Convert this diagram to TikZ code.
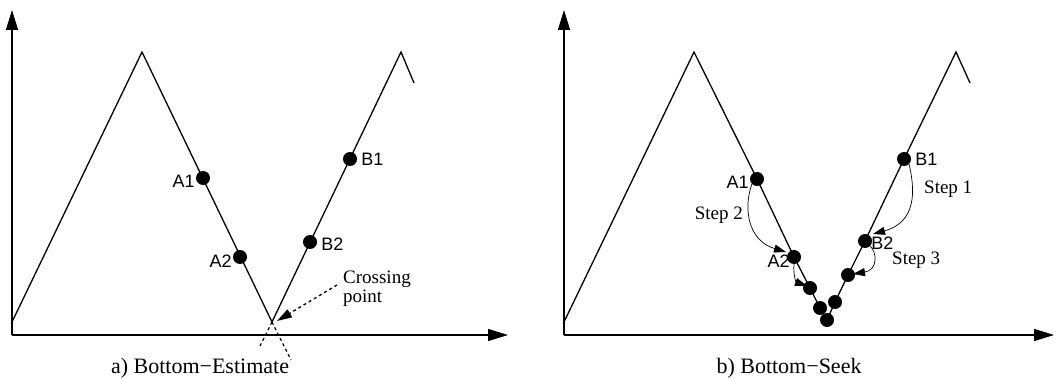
\documentclass[tikz,border=0pt]{standalone}
\usepackage{fontspec}
\setmainfont{Liberation Serif}
\setsansfont{Liberation Sans}
\usetikzlibrary{arrows.meta}
\tikzset{dt/.style={circle,fill=black,inner sep=0pt,minimum size=14pt},
 lb/.style={font=\sffamily\fontsize{18}{20}\selectfont,inner sep=1pt},
 tx/.style={font=\fontsize{19}{19}\selectfont,align=left,inner sep=0pt},
 cp/.style={font=\fontsize{22}{24}\selectfont,inner sep=0pt},
 ln/.style={line width=1.3pt},
 ax/.style={line width=1.3pt,-{Triangle[length=20pt,width=12pt]}},
 ar/.style={line width=0.7pt,-{Triangle[length=12pt,width=8pt]}}}

\begin{document}
\begin{tikzpicture}[x=1pt,y=-1pt]
\useasboundingbox (0,0) rectangle (1056,379);
% a) bottom-estimate
\coordinate (ao) at (12,335);
\coordinate (ay) at (12,10);
\coordinate (ax) at (508,335);
\draw[ax](ao)--(ay);\draw[ax](ao)--(ax);
\coordinate (as) at (12,322);
\coordinate (ap1) at (142,52);
\coordinate (av) at (272,322);
\coordinate (ap2) at (401,52);
\coordinate (ae) at (414,83);
\coordinate (ad1) at (291,360);
\coordinate (ad2) at (260,346);
\draw[ln](as)--(ap1)--(av)--(ap2)--(ae);
\draw[ln,dashed](av)--(ad1);\draw[ln,dashed](av)--(ad2);
\node[dt](aA1) at (203,178){};
\node[dt](aA2) at (240,257){};
\node[dt](aB1) at (350,159){};
\node[dt](aB2) at (310,242){};
\node[lb,anchor=east] at ([yshift=-3pt]aA1.west){A1};
\node[lb,anchor=east] at ([yshift=-4pt]aA2.west){A2};
\node[lb,anchor=west,xshift=3pt] at (aB1.east){B1};
\node[lb,anchor=west,xshift=3pt] at ([yshift=-2pt]aB2.east){B2};
\node[tx,anchor=west](cr) at (343,289){Crossing\\point};
\coordinate (ac) at (337,285);
\coordinate (at) at (277,321);
\draw[ln,dashed,-{Triangle[length=15pt,width=9pt]}](ac)--(at);
\node[cp](ca) at (200,368){a) Bottom−Estimate};
% b) bottom-seek
\coordinate (bo) at (564,335);
\coordinate (by) at (564,10);
\coordinate (bx) at (1054,335);
\draw[ax](bo)--(by);\draw[ax](bo)--(bx);
\coordinate (bs) at (564,322);
\coordinate (bp1) at (694,52);
\coordinate (bp2) at (956,52);
\coordinate (be) at (970,83);
\node[dt](bA1) at (757,179){};
\node[dt](bA2) at (794,257){};
\node[dt](bc1) at (810,288){};
\node[dt](bc2) at (820,308){};
\node[dt](bc3) at (827,320){};
\node[dt](bc4) at (835,302){};
\node[dt](bc5) at (848,275){};
\node[dt](bB2) at (865,241){};
\node[dt](bB1) at (904,159){};
\draw[ln](bs)--(bp1)--(bA1.center)--(bA2.center)--(bc1.center)--(bc2.center)--(bc3.center)
 --(bc4.center)--(bc5.center)--(bB2.center)--(bB1.center)--(bp2)--(be);
\node[lb,anchor=east] at ([yshift=-3pt]bA1.west){A1};
\node[lb,anchor=east,xshift=4pt] at ([yshift=-4pt]bA2.west){A2};
\node[lb,anchor=west,xshift=3pt] at (bB1.east){B1};
\node[lb,anchor=west,xshift=-2pt] at ([yshift=-2pt]bB2.east){B2};
\coordinate (bt1) at (873,234);
\coordinate (bt2) at (786,252);
\coordinate (bt3) at (853,274);
\coordinate (bt4) at (807,286);
\draw[ar](bB1.south east) .. controls (915,190) and (917,222) .. (bt1);
\draw[ar](bA1.south west) .. controls (744,205) and (746,240) .. (bt2);
\draw[ar](bB2.south east) .. controls (877,252) and (878,270) .. (bt3);
\draw[ar](bA2.south) .. controls (793,274) and (796,282) .. (bt4);
\node[tx,anchor=west](s1) at (924,189){Step 1};
\node[tx,anchor=east](s2) at (743,215){Step 2};
\node[tx,anchor=west](s3) at (892,260){Step 3};
\node[cp](cb) at (789,368){b) Bottom−Seek};
\end{tikzpicture}
\end{document}
